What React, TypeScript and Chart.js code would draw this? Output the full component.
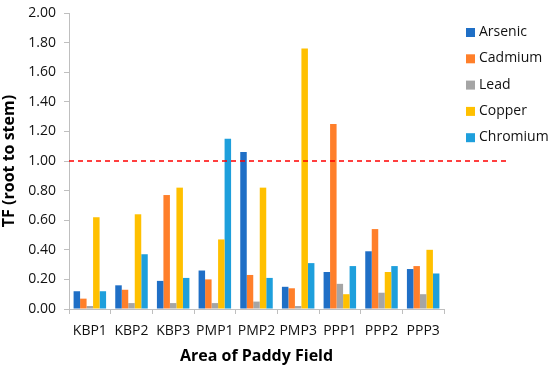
import React, { useEffect, useRef } from 'react';
import { Chart, registerables } from 'chart.js';

Chart.register(...registerables);

const categories = ['KBP1', 'KBP2', 'KBP3', 'PMP1', 'PMP2', 'PMP3', 'PPP1', 'PPP2', 'PPP3'];
const arsenic = [0.12, 0.16, 0.19, 0.26, 1.06, 0.15, 0.25, 0.39, 0.27];
const cadmium = [0.07, 0.13, 0.77, 0.2, 0.23, 0.14, 1.25, 0.54, 0.29];
const lead = [0.02, 0.04, 0.04, 0.04, 0.05, 0.02, 0.17, 0.11, 0.1];
const copper = [0.62, 0.64, 0.82, 0.47, 0.82, 1.76, 0.1, 0.25, 0.4];
const chromium = [0.12, 0.37, 0.21, 1.15, 0.21, 0.31, 0.29, 0.29, 0.24];
const seriesNames = ['Arsenic', 'Cadmium', 'Lead', 'Copper', 'Chromium'];
const seriesValues = [arsenic, cadmium, lead, copper, chromium];
const seriesColors = ['#1F6FC6', '#FF7F2A', '#A5A5A5', '#FFC000', '#1E9FDC'];
const threshold = 1.0;
const yTitle = 'TF (root to stem)';
const xTitle = 'Area of Paddy Field';

const FONT = "'Open Sans', 'Noto Sans', sans-serif";

const overlayPlugin = {
  id: 'overlay',
  afterDatasetsDraw(chart: any) {
    const { ctx, chartArea, scales } = chart;
    const y = scales.y.getPixelForValue(threshold);
    ctx.save();
    ctx.strokeStyle = '#FF0000';
    ctx.lineWidth = 1.5;
    ctx.setLineDash([5, 4]);
    ctx.beginPath();
    ctx.moveTo(chartArea.left, y);
    ctx.lineTo(chartArea.right + 66, y);
    ctx.stroke();
    ctx.restore();

    // legend
    ctx.save();
    ctx.font = `14px ${FONT}`;
    ctx.textBaseline = 'middle';
    ctx.textAlign = 'left';
    const bx = chartArea.right + 22;
    const by = chartArea.top + 19;
    seriesNames.forEach((name, i) => {
      const cy = by + i * 26.3;
      ctx.fillStyle = seriesColors[i];
      ctx.fillRect(bx, cy - 4, 9, 9);
      ctx.fillStyle = '#111';
      ctx.fillText(name, bx + 13, cy);
    });
    ctx.restore();
  },
};

export default function App() {
  const ref = useRef<HTMLCanvasElement | null>(null);
  useEffect(() => {
    if (!ref.current) return;
    const chart = new Chart(ref.current, {
      type: 'bar',
      data: {
        labels: categories,
        datasets: seriesNames.map((name, i) => ({
          label: name,
          data: seriesValues[i],
          backgroundColor: seriesColors[i],
          borderWidth: 0,
          barPercentage: 1,
          categoryPercentage: 0.78,
        })),
      },
      options: {
        responsive: true,
        maintainAspectRatio: false,
        animation: false,
        layout: { padding: { left: 0, right: 106, top: 13, bottom: 0 } },
        plugins: {
          legend: { display: false },
          tooltip: { enabled: false },
        },
        scales: {
          x: {
            grid: { drawOnChartArea: false, drawTicks: true, tickLength: 5, color: '#BFBFBF', offset: true },
            border: { display: true, color: '#BFBFBF', width: 1 },
            ticks: { color: '#111', font: { family: FONT, size: 14 }, padding: 9, maxRotation: 0, autoSkip: false },
            title: { display: true, text: xTitle, color: '#000', font: { family: FONT, size: 16, weight: 'bold' }, padding: { top: 0, bottom: 1 } },
            afterFit: (scale: any) => { scale.height = 58; scale.paddingLeft = 0; scale.paddingRight = 0; },
          },
          y: {
            min: 0,
            max: 2,
            grid: { drawOnChartArea: false, drawTicks: true, tickLength: 5, color: '#BFBFBF' },
            border: { display: true, color: '#BFBFBF', width: 1 },
            ticks: { stepSize: 0.2, color: '#111', font: { family: FONT, size: 14 }, padding: 8, callback: (v: any) => Number(v).toFixed(2) },
            title: { display: true, text: yTitle, color: '#000', font: { family: FONT, size: 16, weight: 'bold' }, padding: { top: 0, bottom: 0 } },
            afterFit: (scale: any) => { scale.width = 69; scale.paddingTop = 0; scale.paddingBottom = 0; },
          },
        },
      },
      plugins: [overlayPlugin],
    });
    return () => chart.destroy();
  }, []);
  return (
    <div style={{ position: 'fixed', left: 0, top: 0, width: 550, height: 367, background: '#fff' }}>
      <canvas ref={ref} />
    </div>
  );
}
